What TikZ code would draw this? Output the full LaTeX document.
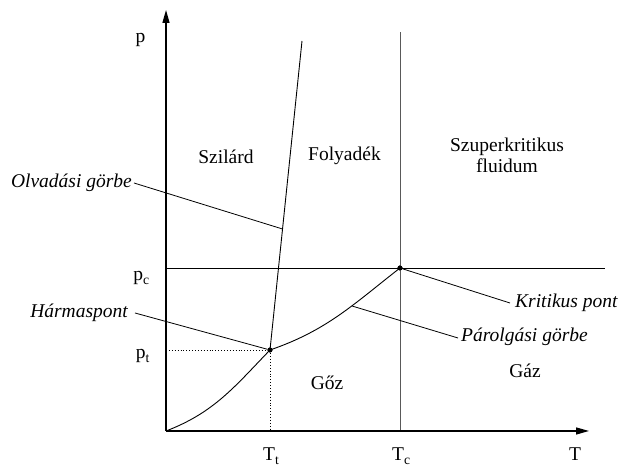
\documentclass[tikz,border=0pt]{standalone}
\usepackage{fontspec}
\setmainfont{Liberation Serif}
\usetikzlibrary{arrows.meta}
\begin{document}
\begin{tikzpicture}[x=1pt,y=1pt,
  lbl/.style={font=\fontsize{19.5}{21}\selectfont, inner sep=0pt},
  ilbl/.style={font=\fontsize{19.5}{21}\selectfont\itshape, inner sep=0pt},
  axisline/.style={line width=1.3pt, -{Triangle[length=13pt,width=7pt]}},
  curveline/.style={line width=0.9pt},
  leader/.style={line width=0.8pt},
  dotline/.style={line width=0.9pt, dotted},
  tcline/.style={line width=1pt, black!65},
  dotpt/.style={circle, fill, inner sep=0pt, minimum size=5pt}]
\useasboundingbox (0,0) rectangle (619,470);
% key points
\coordinate (O) at (166,39);
\coordinate (ytop) at (166,460);
\coordinate (xend) at (589,39);
\node[dotpt] (TP) at (270,120) {};
\node[dotpt] (CP) at (400,202) {};
\coordinate (melt) at (302,429);
\coordinate (tcTop) at (400,438);
\coordinate (tcBot) at (400,39);
\coordinate (pcL) at (166,202);
\coordinate (pcR) at (605,202);
\coordinate (ptL) at (166,120);
\coordinate (ttB) at (270,39);
\coordinate (meltPt) at (282.5,241);
\coordinate (vapPt) at (352,164);
% lines
\draw[tcline] (tcBot) -- (tcTop);
\draw[curveline] (pcL) -- (pcR);
\draw[dotline] (ptL) -- (TP.center) -- (ttB);
\draw[curveline] (TP.center) -- (melt);
\draw[curveline] (O) to[out=21,in=226] (TP.center);
\draw[curveline] (TP.center) to[out=19,in=218] (CP.center);
\draw[axisline] (O) -- (ytop);
\draw[axisline] (O) -- (xend);
\node[dotpt] at (TP) {};
\node[dotpt] at (CP) {};
% axis labels
\node[lbl, anchor=base] (pl) at (140.5,427) {p};
\node[lbl, anchor=base east] (pcl) at (150,189) {p\textsubscript{c}};
\node[lbl, anchor=base east] (ptl) at (150,111) {p\textsubscript{t}};
\node[lbl, anchor=base west] (ttl) at (263,9) {T\textsubscript{t}};
\node[lbl, anchor=base west] (tcl) at (392,9) {T\textsubscript{c}};
\node[lbl, anchor=base] (tl) at (575,9) {T};
% region labels
\node[lbl, anchor=base] (sz) at (226,306) {Szilárd};
\node[lbl, anchor=base] (fo) at (344.5,309) {Folyadék};
\node[lbl, align=center] (sk) at (507,314.5) {Szuperkritikus\\fluidum};
\node[lbl, anchor=base] (goz) at (327,80) {Gőz};
\node[lbl, anchor=base] (gaz) at (525,92) {Gáz};
% italic annotations
\node[ilbl, anchor=base east] (olv) at (132,282) {Olvadási görbe};
\node[ilbl, anchor=base east] (har) at (128,152) {Hármaspont};
\node[ilbl, anchor=base west] (kri) at (515,162.5) {Kritikus pont};
\node[ilbl, anchor=base west] (par) at (461,128) {Párolgási görbe};
% leaders
\coordinate (olvE) at (134,287);
\coordinate (harE) at (135,157);
\coordinate (kriE) at (510,167);
\coordinate (parE) at (458,132);
\draw[leader] (olvE) -- (meltPt);
\draw[leader] (harE) -- (TP);
\draw[leader] (CP) -- (kriE);
\draw[leader] (vapPt) -- (parE);
\end{tikzpicture}
\end{document}
